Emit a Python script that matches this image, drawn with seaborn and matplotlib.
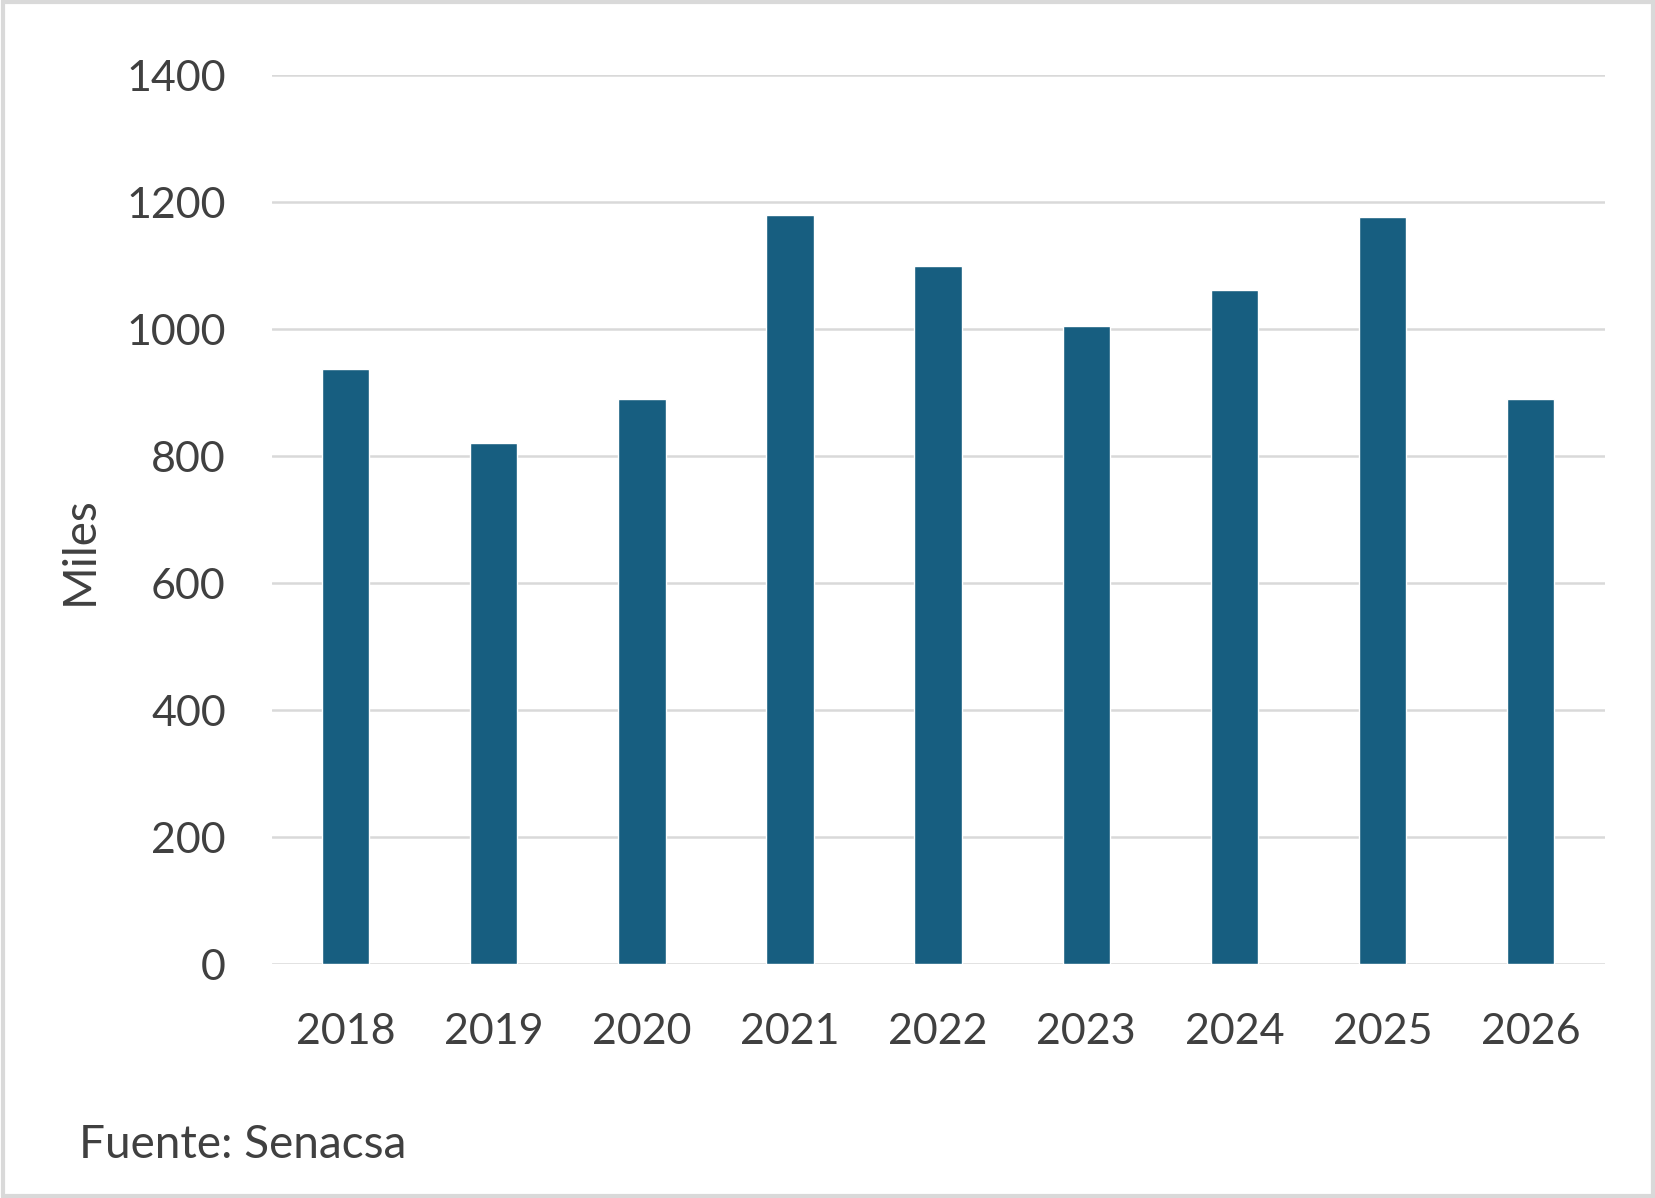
import matplotlib
matplotlib.use("Agg")
import matplotlib.pyplot as plt
import seaborn as sns
import pandas as pd

years = ["2018", "2019", "2020", "2021", "2022", "2023", "2024", "2025", "2026"]
miles = [937, 821, 890, 1180, 1100, 1005, 1062, 1177, 890]

df = pd.DataFrame({"year": years, "miles": miles})

sns.set_style("white")
plt.rcParams["font.family"] = ["Lato", "DejaVu Sans"]
text_color = "#404040"

fig = plt.figure(figsize=(16.56, 11.98), dpi=100)
ax = fig.add_axes([0.164, 0.195, 0.805, 0.742])

sns.barplot(data=df, x="year", y="miles", color="#175e80", width=0.32,
            saturation=1, ax=ax, zorder=3)

ax.set_ylim(0, 1400)
ax.set_yticks(range(0, 1401, 200))
ax.set_xlim(-0.5, 8.5)
ax.yaxis.grid(True, color="#d9d9d9", linewidth=1.8, zorder=0)
ax.set_axisbelow(True)
for s in ax.spines.values():
    s.set_visible(False)
ax.tick_params(axis="both", length=0, labelsize=31, labelcolor=text_color)
ax.tick_params(axis="y", pad=33)
ax.tick_params(axis="x", pad=35)
ax.set_xlabel("")
ax.set_ylabel("Miles", fontsize=33, color=text_color, labelpad=18)
ax.yaxis.label.set_y(0.465)

fig.text(0.048, 0.027, "Fuente: Senacsa", fontsize=33, color=text_color,
         ha="left", va="bottom")

# light grey frame around the picture
border = plt.Rectangle((0.002, 0.002), 0.996, 0.996, transform=fig.transFigure,
                       fill=False, edgecolor="#d9d9d9", linewidth=3)
fig.patches.append(border)

fig.savefig("out.png", dpi=100)
